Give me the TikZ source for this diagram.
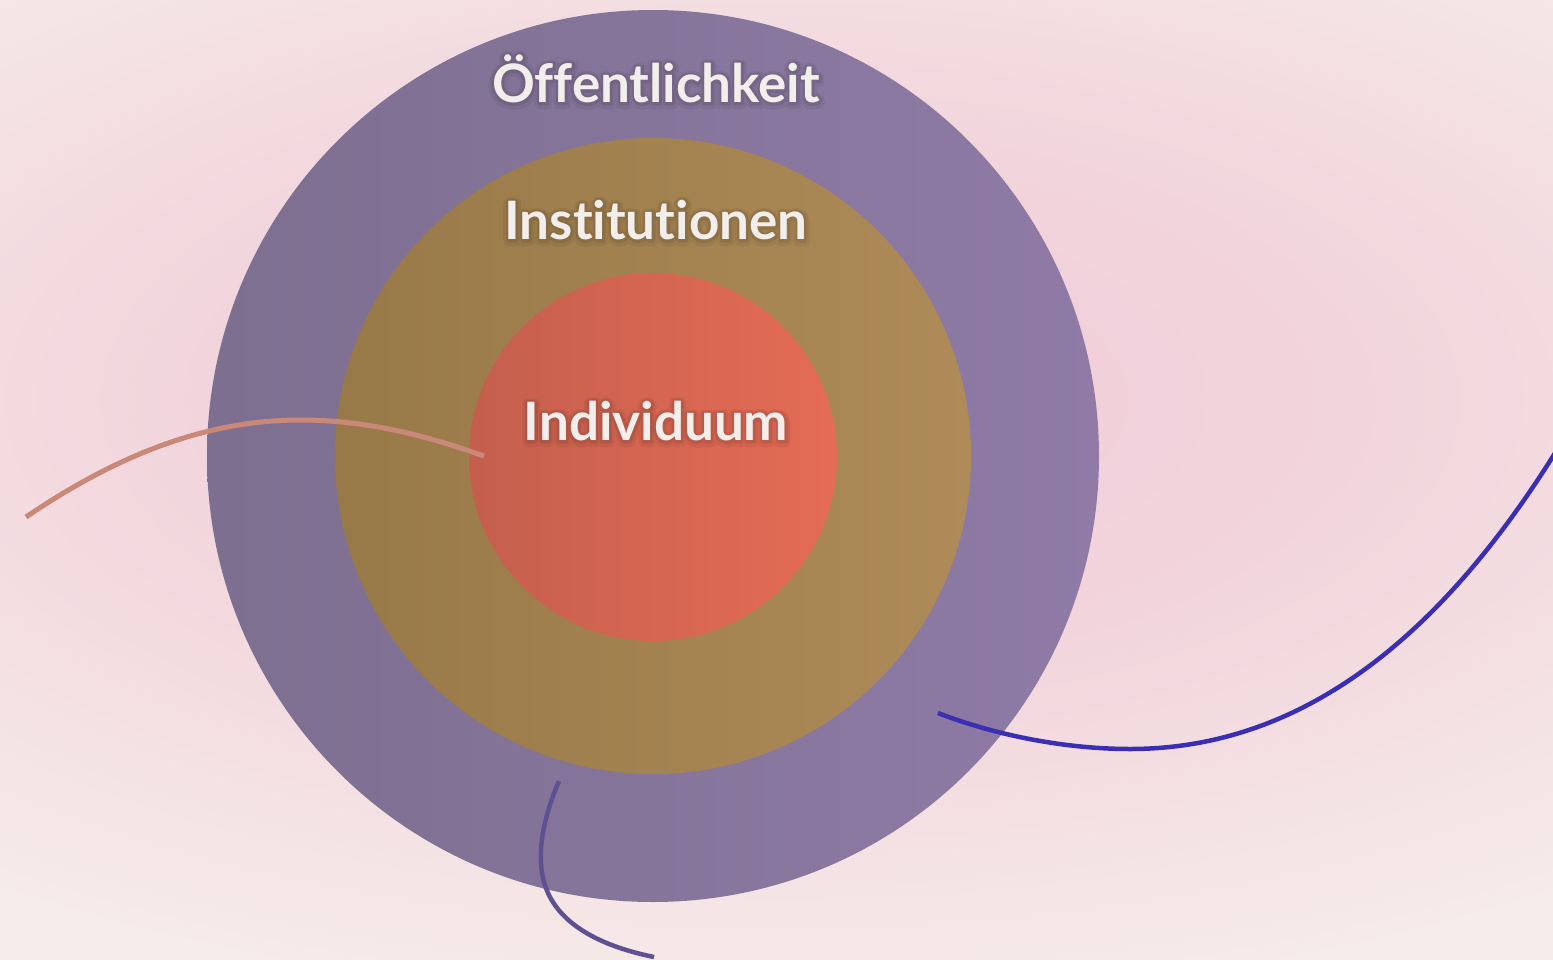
\documentclass[tikz,border=0pt]{standalone}
\usepackage{fontspec}
\setmainfont{Lato}[Ligatures=NoCommon]
\newfontfamily\glowwide{Lato}[Ligatures=NoCommon, UprightFont=* Bold, FakeBold=20]
\newfontfamily\glownarrow{Lato}[Ligatures=NoCommon, UprightFont=* Bold, FakeBold=10]
\newcommand{\roundglyphjoin}{\special{pdf:literal direct 1 j 1 J}}
\definecolor{bgpink}{HTML}{F0CBD8}
\definecolor{bgmid}{HTML}{F2D4DC}
\definecolor{bgpale}{HTML}{F6EDEA}
\definecolor{outerL}{HTML}{7D6F90}
\definecolor{outerR}{HTML}{8F7BA6}
\definecolor{midL}{HTML}{987948}
\definecolor{midR}{HTML}{AE8B59}
\definecolor{innL}{HTML}{C45F4D}
\definecolor{innR}{HTML}{E56C56}
\definecolor{labeltext}{HTML}{F2EEEB}
\definecolor{salmonline}{HTML}{C98878}
\definecolor{blueline}{HTML}{3A2EB5}
\definecolor{purpleline}{HTML}{5D5192}
\pgfdeclareradialshading{bgshade}{\pgfpoint{0bp}{0bp}}{color(0bp)=(bgpink); color(10bp)=(bgmid); color(24bp)=(bgpale); color(50bp)=(bgpale)}
\begin{document}
\begin{tikzpicture}[x=1pt,y=-1pt,
  lbl/.style={font=\fontsize{53}{64}\selectfont\bfseries, text=labeltext, inner sep=0pt, anchor=base},
  glowA/.style={font=\fontsize{53}{64}\selectfont\glowwide\roundglyphjoin, text=black, inner sep=0pt, anchor=base},
  glowB/.style={font=\fontsize{53}{64}\selectfont\glownarrow\roundglyphjoin, text=black, inner sep=0pt, anchor=base},
  deco/.style={line width=5pt, line cap=butt}]
\useasboundingbox (0,0) rectangle (1553,959);
\fill[bgpale] (0,0) rectangle (1553,959);
\shade[shading=bgshade] (-640,-250) rectangle (2200,1050);
% rings
\shade[left color=outerL, right color=outerR] (653,456) circle (446pt);
\shade[left color=midL, right color=midR] (653,456) circle (318pt);
\shade[left color=innL, right color=innR] (653,457) circle (184pt);
% label shadows (soft glow)
\begin{scope}[transparency group, opacity=0.06]
  \node[glowA] (oeffa) at (656,104) {Öffentlichkeit};
  \node[glowA] (insta) at (656,241) {Institutionen};
  \node[glowA] (india) at (656,442) {Individuum};
\end{scope}
\begin{scope}[transparency group, opacity=0.08]
  \node[glowB] (oeffb) at (656,103) {Öffentlichkeit};
  \node[glowB] (instb) at (656,240) {Institutionen};
  \node[glowB] (indib) at (656,441) {Individuum};
\end{scope}
\node[lbl] (oeff) at (656,102) {Öffentlichkeit};
\node[lbl] (inst) at (656,239) {Institutionen};
\node[lbl] (indi) at (656,440) {Individuum};
% decorative curves
\coordinate (s1) at (26,517);
\coordinate (sm) at (300,420);
\coordinate (s2) at (484,456);
\draw[deco, salmonline] (s1) .. controls (110,460) and (200,420) .. (sm)
  .. controls (370,420) and (430,437) .. (s2);
\coordinate (b1) at (938,713);
\coordinate (bm) at (1130,749);
\coordinate (b2) at (1560,445);
\draw[deco, blueline, line width=4.5pt] (b1) .. controls (1000,737) and (1070,749) .. (bm)
  .. controls (1300,749) and (1440,640) .. (b2);
\coordinate (p1) at (559,781);
\coordinate (pm) at (548,893);
\coordinate (p2) at (654,957);
\draw[deco, purpleline, line width=4.5pt] (p1) .. controls (540,825) and (535,865) .. (pm)
  .. controls (565,930) and (610,948) .. (p2);
\end{tikzpicture}
\end{document}
